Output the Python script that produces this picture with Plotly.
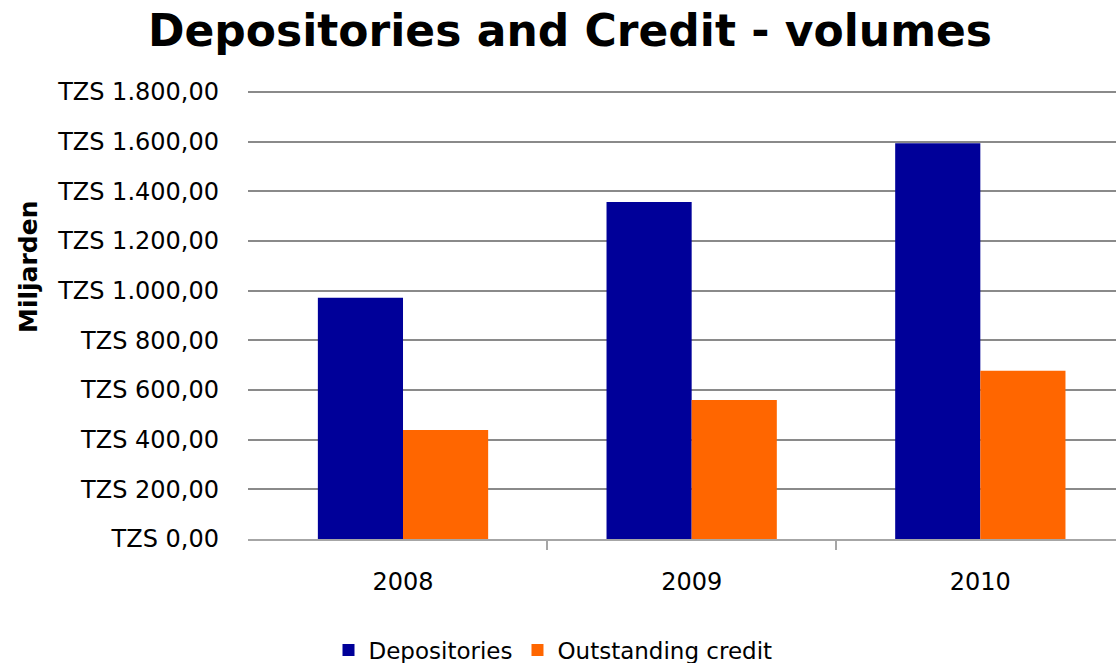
import plotly.graph_objects as go

years = ["2008", "2009", "2010"]
depositories = [971, 1357, 1594]
outstanding_credit = [439, 560, 677]

W, H = 1116, 663
L, R, T, B = 248, 0, 90, 124
XRANGE = [-0.537, 2.47]

fig = go.Figure()
fig.add_trace(go.Bar(x=years, y=depositories, name="Depositories",
                     marker=dict(color="#000099", line=dict(width=0))))
fig.add_trace(go.Bar(x=years, y=outstanding_credit, name="Outstanding credit",
                     marker=dict(color="#FF6600", line=dict(width=0))))
# helper (empty) trace so the boundary-tick axis is drawn
fig.add_trace(go.Scatter(x=[], y=[], xaxis="x2", showlegend=False, hoverinfo="skip"))

font_family = "DejaVu Sans"
fig.update_layout(
    width=W, height=H,
    margin=dict(l=L, r=R, t=T, b=B, pad=0),
    paper_bgcolor="white", plot_bgcolor="white",
    barmode="group", bargap=0.41, bargroupgap=0,
    separators=",.",
    font=dict(family=font_family, color="black", size=22),
    title=dict(text="<b>Depositories and Credit - volumes</b>",
               x=570 / W, xanchor="center", xref="container",
               y=1 - 31 / H, yanchor="middle", yref="container",
               font=dict(family=font_family, size=44, color="black")),
    showlegend=True,
    legend=dict(orientation="h", x=553 / W, xanchor="center", xref="container",
                y=13 / H, yanchor="middle", yref="container",
                font=dict(family=font_family, size=23, color="black"),
                itemwidth=30, tracegroupgap=0),
    xaxis=dict(type="category", range=XRANGE,
               showgrid=False, showline=True, linecolor="#a6a6a6", linewidth=2,
               ticks="", ticklabelstandoff=20,
               tickfont=dict(family=font_family, size=24, color="black"),
               fixedrange=True),
    xaxis2=dict(overlaying="x", side="bottom", anchor="y", range=XRANGE,
                tickvals=[0.5, 1.5], showticklabels=False, showgrid=False,
                showline=False, zeroline=False,
                ticks="outside", ticklen=10, tickwidth=2, tickcolor="#a6a6a6",
                fixedrange=True),
    yaxis=dict(range=[0, 1808], dtick=200, tick0=0,
               showgrid=True, gridcolor="#8a8a8a", gridwidth=2,
               zeroline=False, showline=False, ticks="",
               tickprefix="TZS ", tickformat=",.2f",
               ticklabelstandoff=28,
               tickfont=dict(family=font_family, size=24, color="black"),
               fixedrange=True),
)

fig.add_annotation(text="<b>Miljarden</b>", textangle=-90,
                   xref="paper", yref="paper",
                   x=-(L - 28) / (W - L - R), y=(H - B - 267) / (H - T - B),
                   xanchor="center", yanchor="middle", showarrow=False,
                   font=dict(family=font_family, size=25, color="black"))

fig.write_html("out.html")
